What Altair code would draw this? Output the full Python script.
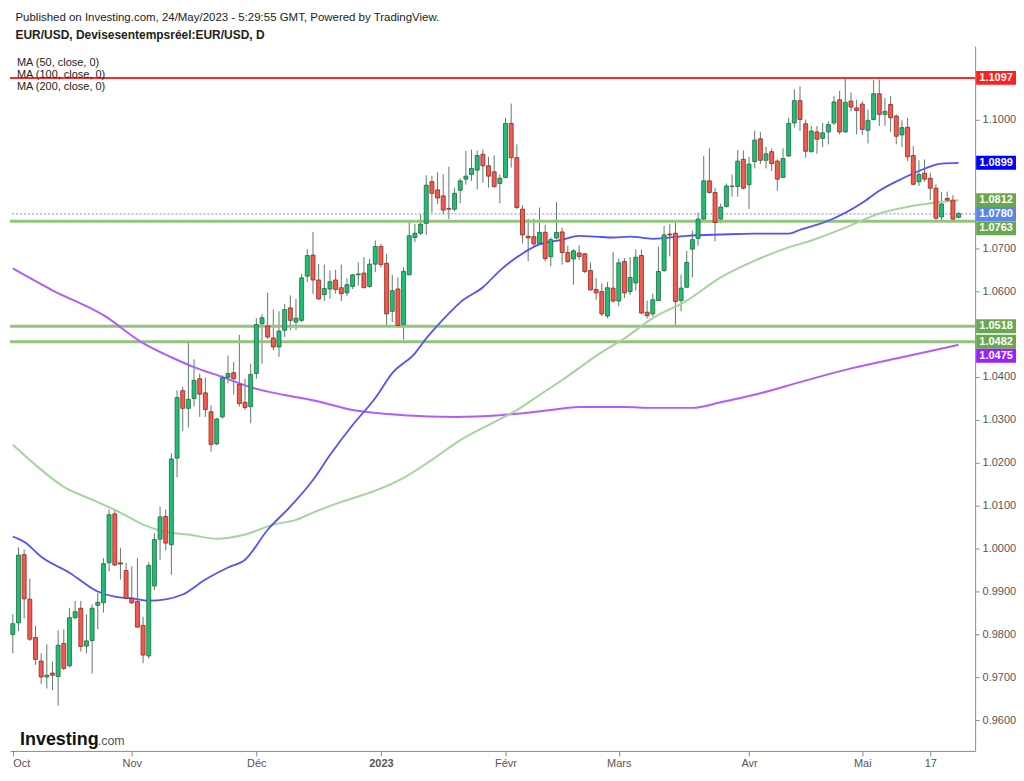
import altair as alt
import pandas as pd

# ---------------- data ----------------
dates = pd.bdate_range("2022-10-03", "2023-05-24")

opens = [
0.9800,0.9827,0.9986,0.9882,0.9793,0.9738,0.9701,0.9710,0.9702,0.9779,
0.9727,0.9839,0.9861,0.9773,0.9786,0.9868,0.9874,0.9967,1.0081,0.9967,
0.9949,0.9884,0.9877,0.9821,0.9750,0.9913,1.0022,1.0075,1.0009,1.0211,
1.0368,1.0327,1.0350,1.0396,1.0363,1.0319,1.0244,1.0307,1.0399,1.0410,
1.0383,1.0341,1.0331,1.0408,1.0524,1.0519,1.0491,1.0470,1.0509,1.0561,
1.0528,1.0532,1.0635,1.0684,1.0626,1.0592,1.0605,1.0626,1.0608,1.0596,
1.0611,1.0638,1.0642,1.0611,1.0663,1.0704,1.0665,1.0553,1.0605,1.0522,
1.0638,1.0725,1.0735,1.0758,1.0855,1.0836,1.0822,1.0793,1.0791,1.0835,
1.0861,1.0872,1.0882,1.0919,1.0892,1.0878,1.0851,1.0865,1.0991,1.0911,
1.0791,1.0728,1.0727,1.0711,1.0737,1.0680,1.0724,1.0738,1.0690,1.0675,
1.0689,1.0687,1.0648,1.0604,1.0599,1.0542,1.0607,1.0577,1.0669,1.0599,
1.0619,1.0683,1.0551,1.0547,1.0578,1.0648,1.0733,1.0735,1.0578,1.0609,
1.0698,1.0723,1.0768,1.0857,1.0830,1.0768,1.0797,1.0844,1.0844,1.0907,
1.0848,1.0902,1.0955,1.0905,1.0925,1.0903,1.0865,1.0915,1.0992,1.1044,
1.0990,1.0925,1.0971,1.0956,1.0971,1.0992,1.1046,1.0971,1.1043,1.1027,
1.1036,1.0975,1.1000,1.1060,1.1012,1.1035,1.1008,1.0964,1.0982,1.0916,
1.0855,1.0875,1.0863,1.0840,1.0773,1.0816,1.0812,1.0772]

highs = [
0.9847,1.0003,0.9998,0.9930,0.9820,0.9756,0.9777,0.9737,0.9810,0.9812,
0.9862,0.9878,0.9878,0.9847,0.9870,0.9897,0.9978,1.0091,1.0092,1.0002,
0.9967,0.9959,0.9978,0.9841,0.9969,1.0036,1.0098,1.0091,1.0222,1.0369,
1.0377,1.0483,1.0441,1.0408,1.0399,1.0334,1.0305,1.0404,1.0450,1.0435,
1.0498,1.0396,1.0431,1.0537,1.0546,1.0596,1.0557,1.0553,1.0570,1.0590,
1.0582,1.0640,1.0698,1.0738,1.0663,1.0662,1.0648,1.0650,1.0662,1.0630,
1.0640,1.0667,1.0679,1.0675,1.0718,1.0710,1.0687,1.0638,1.0632,1.0656,
1.0764,1.0756,1.0779,1.0870,1.0869,1.0877,1.0872,1.0890,1.0841,1.0863,
1.0927,1.0930,1.0928,1.0930,1.0913,1.0916,1.0872,1.1004,1.1037,1.0942,
1.0800,1.0769,1.0769,1.0795,1.0754,1.0725,1.0808,1.0748,1.0706,1.0698,
1.0707,1.0689,1.0667,1.0630,1.0618,1.0621,1.0692,1.0676,1.0677,1.0679,
1.0697,1.0697,1.0578,1.0594,1.0704,1.0752,1.0756,1.0762,1.0639,1.0694,
1.0741,1.0783,1.0915,1.0933,1.0841,1.0804,1.0851,1.0872,1.0929,1.0928,
1.0913,1.0974,1.0971,1.0936,1.0932,1.0907,1.0933,1.1004,1.1070,1.1077,
1.1000,1.0985,1.0985,1.0992,1.0996,1.1054,1.1067,1.1095,1.1063,1.1046,
1.1043,1.1023,1.1092,1.1093,1.1050,1.1054,1.1012,1.0998,1.1004,1.0938,
1.0905,1.0907,1.0876,1.0849,1.0831,1.0832,1.0824,1.0785]

lows = [
0.9756,0.9808,0.9837,0.9785,0.9729,0.9684,0.9674,0.9670,0.9634,0.9717,
0.9723,0.9835,0.9760,0.9756,0.9709,0.9812,0.9851,0.9947,0.9959,0.9928,
0.9882,0.9870,0.9816,0.9733,0.9744,0.9903,0.9974,0.9996,0.9939,1.0166,
1.0274,1.0282,1.0331,1.0307,1.0307,1.0226,1.0241,1.0303,1.0385,1.0359,
1.0331,1.0323,1.0292,1.0396,1.0431,1.0489,1.0462,1.0447,1.0493,1.0509,
1.0509,1.0528,1.0621,1.0594,1.0580,1.0577,1.0582,1.0594,1.0577,1.0588,
1.0605,1.0613,1.0608,1.0608,1.0644,1.0655,1.0520,1.0528,1.0515,1.0487,
1.0637,1.0714,1.0731,1.0731,1.0783,1.0803,1.0779,1.0768,1.0786,1.0805,
1.0848,1.0857,1.0837,1.0853,1.0841,1.0841,1.0805,1.0863,1.0888,1.0791,
1.0711,1.0670,1.0706,1.0708,1.0669,1.0658,1.0721,1.0662,1.0666,1.0615,
1.0673,1.0642,1.0601,1.0580,1.0542,1.0537,1.0573,1.0565,1.0584,1.0591,
1.0601,1.0547,1.0536,1.0541,1.0577,1.0644,1.0681,1.0518,1.0553,1.0608,
1.0632,1.0706,1.0762,1.0827,1.0716,1.0758,1.0795,1.0820,1.0820,1.0837,
1.0791,1.0886,1.0896,1.0886,1.0880,1.0834,1.0863,1.0913,1.0981,1.0973,
1.0911,1.0923,1.0920,1.0936,1.0942,1.0987,1.0965,1.0969,1.1019,1.0965,
1.0964,1.0944,1.0998,1.0985,1.0985,1.0971,1.0942,1.0936,1.0903,1.0847,
1.0845,1.0855,1.0812,1.0764,1.0762,1.0811,1.0763,1.0770]

closes = [
0.9825,0.9985,0.9883,0.9789,0.9742,0.9701,0.9705,0.9705,0.9775,0.9721,
0.9839,0.9853,0.9772,0.9785,0.9861,0.9875,0.9965,1.0079,0.9962,0.9964,
0.9884,0.9874,0.9817,0.9752,0.9961,1.0021,1.0074,1.0013,1.0209,1.0352,
1.0327,1.0348,1.0392,1.0360,1.0324,1.0243,1.0302,1.0398,1.0408,1.0396,
1.0338,1.0329,1.0406,1.0522,1.0538,1.0493,1.0470,1.0507,1.0557,1.0532,
1.0537,1.0631,1.0683,1.0626,1.0582,1.0606,1.0622,1.0604,1.0594,1.0615,
1.0638,1.0640,1.0608,1.0663,1.0704,1.0662,1.0547,1.0601,1.0520,1.0646,
1.0729,1.0735,1.0756,1.0847,1.0828,1.0817,1.0789,1.0791,1.0828,1.0857,
1.0868,1.0886,1.0916,1.0892,1.0868,1.0844,1.0863,1.0991,1.0911,1.0795,
1.0731,1.0724,1.0710,1.0737,1.0676,1.0720,1.0737,1.0690,1.0669,1.0694,
1.0681,1.0646,1.0603,1.0596,1.0547,1.0608,1.0577,1.0666,1.0596,1.0632,
1.0679,1.0549,1.0543,1.0580,1.0646,1.0731,1.0731,1.0576,1.0607,1.0667,
1.0720,1.0768,1.0857,1.0830,1.0760,1.0796,1.0845,1.0845,1.0903,1.0840,
1.0896,1.0952,1.0905,1.0920,1.0897,1.0861,1.0909,1.0991,1.1044,1.1000,
1.0926,1.0973,1.0954,1.0969,1.0988,1.1041,1.0971,1.1040,1.1029,1.1021,
1.0977,1.0998,1.1060,1.1012,1.1019,1.1004,1.0961,1.0981,1.0913,1.0849,
1.0872,1.0861,1.0840,1.0770,1.0803,1.0812,1.0768,1.0781]

# moving averages (bar index, value)
ma50_idx = [0, 2, 5, 10, 15, 18, 21, 24, 27, 30, 34, 38, 41, 45, 49, 53, 56, 60, 64, 67,
            71, 73, 75, 77, 79, 83, 86, 90, 93, 97, 100, 103, 106, 109, 113, 119, 125,
            131, 137, 139, 144, 150, 153, 157, 160, 164, 167]
ma50_val = [1.0028, 1.0016, 0.9981, 0.9944, 0.9900, 0.9888, 0.9884, 0.9879, 0.9882, 0.9893,
            0.9928, 0.9956, 0.9974, 1.0044, 1.0098, 1.0160, 1.0218, 1.0288, 1.0351, 1.0409,
            1.0455, 1.0490, 1.0520, 1.0548, 1.0574, 1.0609, 1.0648, 1.0688, 1.0709, 1.0720,
            1.0729, 1.0727, 1.0725, 1.0727, 1.0722, 1.0729, 1.0732, 1.0734, 1.0734, 1.0743,
            1.0764, 1.0806, 1.0834, 1.0862, 1.0880, 1.0897, 1.0899]

ma100_idx = [0, 4, 9, 14, 19, 23, 27, 31, 36, 41, 46, 50, 53, 58, 64, 69, 74, 79, 85, 89,
             93, 97, 104, 108, 113, 119, 125, 131, 137, 141, 147, 153, 159, 167]
ma100_val = [1.0242, 1.0195, 1.0144, 1.0114, 1.0084, 1.0056, 1.0039, 1.0033, 1.0023, 1.0033,
             1.0056, 1.0067, 1.0084, 1.0109, 1.0135, 1.0165, 1.0207, 1.0253, 1.0295, 1.0323,
             1.0358, 1.0393, 1.0458, 1.0490, 1.0537, 1.0578, 1.0632, 1.0671, 1.0702, 1.0718,
             1.0748, 1.0781, 1.0799, 1.0812]

ma200_idx = [0, 7, 16, 23, 28, 32, 37, 42, 48, 53, 60, 69, 78, 86, 95, 100, 108, 113, 120,
             125, 132, 139, 148, 157, 167]
ma200_val = [1.0653, 1.0602, 1.0544, 1.0479, 1.0446, 1.0423, 1.0400, 1.0376, 1.0358, 1.0346,
             1.0323, 1.0311, 1.0307, 1.0311, 1.0323, 1.0330, 1.0330, 1.0328, 1.0328, 1.0341,
             1.0362, 1.0388, 1.0420, 1.0446, 1.0475]

resistance_level = 1.1097
support_levels = [1.0763, 1.0518, 1.0482]
last_price = 1.0780

label_vals = [1.1097, 1.0899, 1.0812, 1.0780, 1.0763, 1.0518, 1.0482, 1.0475]
label_colors = ["#ff1f1f", "#0000ff", "#6aa84f", "#5b86e5", "#6aa84f", "#6aa84f", "#6aa84f", "#9b1fff"]
label_nudge_px = [0, 0, 0, 0, 7, 0, 0, 11]

month_labels = ["Oct", "Nov", "Déc", "2023", "Févr", "Mars", "Avr", "Mai", "17"]
# y tick labels that stay visible (the others sit under the price boxes)
y_ticks = [0.96, 0.97, 0.98, 0.99, 1.00, 1.01, 1.02, 1.03, 1.04, 1.06, 1.07, 1.10]

ma_legend_texts = ["MA (50, close, 0)", "MA (100, close, 0)", "MA (200, close, 0)"]

# ---------------- layout ----------------
W, H = 968, 707
XMIN = -0.5
XMAX = XMIN + W / 5.68
YMAX = 1.117124
YMIN = YMAX - H / 4304.0
PXU = H / (YMAX - YMIN)

GREEN = "#1dbf74"
GREEN_EDGE = "#23663f"
RED = "#f25a4f"
RED_EDGE = "#8c2a22"
WICK = "#5f7a6b"

# ---------------- frames ----------------
candles = pd.DataFrame({
    "idx": list(range(len(dates))),
    "date": dates.strftime("%Y-%m-%d"),
    "open": opens, "high": highs, "low": lows, "close": closes,
})
candles["dir"] = ["up" if c >= o else "down" for o, c in zip(opens, closes)]

tick_idx = []
seen = set()
for i, d in enumerate(dates):
    key = (d.year, d.month)
    if key not in seen:
        seen.add(key)
        tick_idx.append(int(i))
tick_idx.append(int(list(dates.strftime("%Y-%m-%d")).index("2023-05-17")))

expr = ""
for v, lab in zip(tick_idx, month_labels):
    expr += f"datum.value == {v} ? '{lab}' : "
expr += "''"
idx2023 = tick_idx[month_labels.index("2023")]

xs = alt.Scale(domain=[XMIN, XMAX], nice=False, zero=False, padding=0)
ys = alt.Scale(domain=[YMIN, YMAX], nice=False, zero=False, padding=0)

x_axis = alt.Axis(values=tick_idx, labelExpr=expr, title=None, grid=False,
                  domainColor="#8a8a8a", tickColor="#8a8a8a", tickSize=5,
                  labelColor="#555555", labelFontSize=11, labelPadding=2,
                  labelAlign={"condition": {"test": "datum.value == 0", "value": "left"},
                              "value": "center"},
                  labelFontWeight={"condition": {"test": f"datum.value == {idx2023}", "value": "bold"},
                                   "value": "normal"})
y_axis = alt.Axis(orient="right", values=y_ticks, format=".4f", title=None, grid=False,
                  domainColor="#8a8a8a", tickColor="#8a8a8a", tickSize=4,
                  labelColor="#555555", labelFontSize=11, labelPadding=3)

def X(field, axis=False):
    if axis:
        return alt.X(field, scale=xs, title=None, axis=x_axis)
    return alt.X(field, scale=xs, title=None)

def Y(field, axis=False):
    if axis:
        return alt.Y(field, scale=ys, title=None, axis=y_axis)
    return alt.Y(field, scale=ys, title=None)

# horizontal levels
red_df = pd.DataFrame({"v": [resistance_level]})
green_df = pd.DataFrame({"v": support_levels})
last_df = pd.DataFrame({"v": [last_price]})

red_rule = alt.Chart(red_df).mark_rule(color="#ff2a2a", strokeWidth=2).encode(y=Y("v:Q"))
green_rule = alt.Chart(green_df).mark_rule(color="#93c47d", strokeWidth=3).encode(y=Y("v:Q"))
last_rule = alt.Chart(last_df).mark_rule(color="#7090e8", strokeWidth=1, strokeDash=[2, 2]).encode(y=Y("v:Q"))

# moving averages
def ma_layer(ix, vals, color, width):
    df = pd.DataFrame({"idx": ix, "v": vals})
    return alt.Chart(df).mark_line(color=color, strokeWidth=width, interpolate="monotone").encode(
        x=X("idx:Q"), y=Y("v:Q"))

ma200 = ma_layer(ma200_idx, ma200_val, "#b25cff", 2)
ma100 = ma_layer(ma100_idx, ma100_val, "#a6d49c", 2)
ma50 = ma_layer(ma50_idx, ma50_val, "#5252ff", 1.8)

# candles (this layer carries both axes)
wicks = alt.Chart(candles).mark_rule(color=WICK, strokeWidth=1).encode(
    x=X("idx:Q", axis=True),
    y=Y("low:Q", axis=True),
    y2="high:Q")
bodies = alt.Chart(candles).mark_bar(size=4, strokeWidth=0.8).encode(
    x=X("idx:Q"),
    y=Y("open:Q"),
    y2="close:Q",
    color=alt.Color("dir:N", scale=alt.Scale(domain=["up", "down"], range=[GREEN, RED]), legend=None),
    stroke=alt.Stroke("dir:N", scale=alt.Scale(domain=["up", "down"], range=[GREEN_EDGE, RED_EDGE]), legend=None))

# price label boxes on the right axis
lab = pd.DataFrame({"v": label_vals, "c": label_colors, "n": label_nudge_px})
lab["pos"] = lab["v"] - lab["n"] / PXU
lab["lo"] = lab["pos"] - 7 / PXU
lab["hi"] = lab["pos"] + 7 / PXU
lab["txt"] = [f"{v:.4f}" for v in label_vals]

boxes = alt.Chart(lab).mark_rect().encode(
    x=alt.value(W + 1), x2=alt.value(W + 41),
    y=Y("lo:Q"), y2="hi:Q",
    color=alt.Color("c:N", scale=None))
box_text = alt.Chart(lab).mark_text(color="white", fontSize=11, fontWeight="bold",
                                   align="center", baseline="middle").encode(
    x=alt.value(W + 21),
    y=Y("pos:Q"),
    text="txt:N")

# annotations
legend_layers = []
for k, t in enumerate(ma_legend_texts):
    legend_layers.append(
        alt.Chart(pd.DataFrame({"t": [t]})).mark_text(
            align="left", baseline="middle", fontSize=11, color="#222222").encode(
            x=alt.value(7), y=alt.value(17 + 12 * k), text="t:N"))

logo1 = alt.Chart(pd.DataFrame({"t": ["Investing"]})).mark_text(
    align="left", baseline="alphabetic", fontSize=18, fontWeight="bold", color="#111111").encode(
    x=alt.value(10), y=alt.value(701), text="t:N")
logo2 = alt.Chart(pd.DataFrame({"t": [".com"]})).mark_text(
    align="left", baseline="alphabetic", fontSize=12.5, color="#555555").encode(
    x=alt.value(88), y=alt.value(701), text="t:N")

chart = alt.layer(
    wicks, red_rule, green_rule, last_rule, ma200, ma100, ma50, bodies,
    boxes, box_text, *legend_layers, logo1, logo2
).properties(
    width=W, height=H,
    padding={"left": 0, "right": 0, "top": 2, "bottom": 0},
    title=alt.Title(
        text="Published on Investing.com, 24/May/2023 - 5:29:55 GMT, Powered by TradingView.",
        subtitle="EUR/USD, Devisesentempsréel:EUR/USD, D",
        anchor="start", fontSize=11.5, fontWeight="normal", color="#222222",
        subtitleFontSize=12, subtitleFontWeight="bold", subtitleColor="#222222",
        subtitlePadding=7, offset=5, dx=7, font="Arial", subtitleFont="Arial")
).configure(font="Arial").configure_axis(grid=False).configure_view(stroke=None)

chart.save("out.html", embed_options={"renderer": "svg", "actions": False})
